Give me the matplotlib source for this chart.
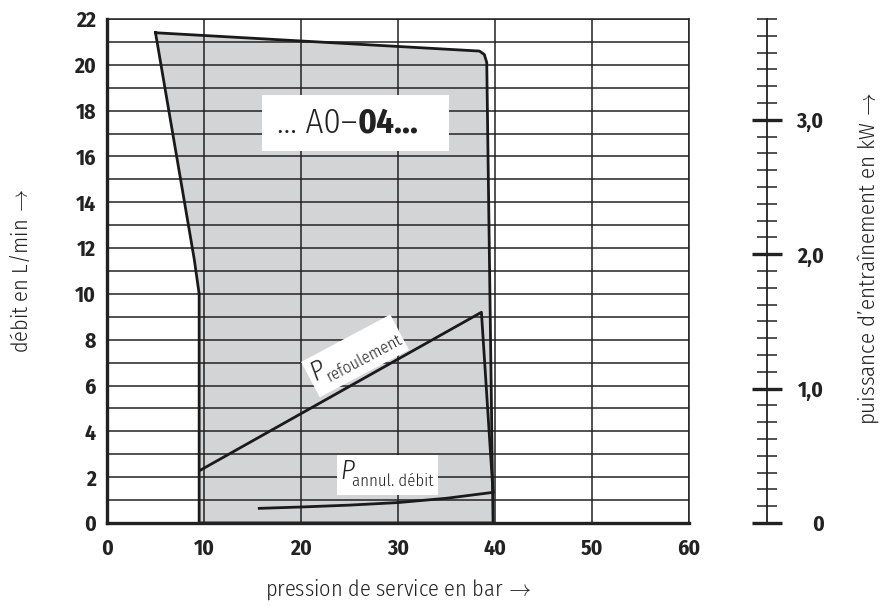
import numpy as np
import matplotlib.pyplot as plt
from matplotlib.patches import Polygon, Rectangle
from matplotlib.transforms import Affine2D, ScaledTranslation

plt.rcParams['font.family'] = ['Fira Sans Condensed', 'Roboto Condensed', 'DejaVu Sans']
plt.rcParams['mathtext.fontset'] = 'cm'

# Plage de fonctionnement : pression (bar) / débit (L/min)
envelope_bar = [5.0, 38.4, 38.9, 39.15, 39.8, 9.5, 9.5, 9.0]
envelope_lmin = [21.4, 20.6, 20.45, 20.1, 0.0, 0.0, 10.0, 11.5]

# Puissance d'entraînement (kW)
refoul_bar = [9.6, 38.6, 39.8]
refoul_kw = [0.392, 1.568, 0.228]
annul_bar = [15.7, 20.0, 25.0, 30.0, 35.0, 39.8]
annul_kw = [0.109, 0.119, 0.133, 0.152, 0.184, 0.228]

x_ticks = [0, 10, 20, 30, 40, 50, 60]
y_ticks = list(range(0, 23, 2))
kw_ticks = [0, 1, 2, 3]
kw_labels = ['0', '1,0', '2,0', '3,0']
kw_max = 3.75

INK = '#222222'
ARROW = r'$\,\rightarrow$'


def power_label(axis, x, y, angle, sub):
    # boîte blanche + "P" italique + indice, dimensions en pixels
    tr = Affine2D().rotate_deg(angle) + ScaledTranslation(x, y, axis.transData)
    axis.add_patch(Rectangle((-50.5, -20), 101, 40, transform=tr,
                             facecolor='white', edgecolor='none', zorder=4))
    axis.text(-47, 4, 'P', transform=tr, rotation=angle, rotation_mode='anchor',
              ha='left', va='center', fontsize=19.5, fontstyle='italic',
              fontweight=300, color=INK, zorder=5)
    axis.text(-35, -6, sub, transform=tr, rotation=angle, rotation_mode='anchor',
              ha='left', va='center', fontsize=12, fontweight=300,
              color=INK, zorder=5)


fig = plt.figure(figsize=(8.82, 6.08), dpi=100)
ax = fig.add_axes([107/882, 85/608, 582/882, 504/608])
ax.set_xlim(0, 60)
ax.set_ylim(0, 22)

ax.set_xticks(x_ticks)
ax.set_yticks(y_ticks)
ax.set_yticks(range(1, 22, 2), minor=True)
ax.tick_params(which='both', length=0)
ax.tick_params(axis='y', pad=8, labelsize=15.5)
ax.tick_params(axis='x', pad=11, labelsize=15.5)
for lbl in ax.get_xticklabels() + ax.get_yticklabels():
    lbl.set_fontweight('bold')
    lbl.set_color(INK)

ax.set_axisbelow('line')
ax.grid(which='both', color=INK, lw=1.1)
for side in ['left', 'bottom']:
    ax.spines[side].set_linewidth(2.4)
for side in ['top', 'right']:
    ax.spines[side].set_linewidth(1.1)
for sp in ax.spines.values():
    sp.set_color(INK)
    sp.set_zorder(4)

env = Polygon(np.column_stack([envelope_bar, envelope_lmin]), closed=True,
              facecolor='#d3d4d6', edgecolor='none', zorder=1)
ax.add_patch(env)
ax.plot(envelope_bar + envelope_bar[:1], envelope_lmin + envelope_lmin[:1],
        color='#1a1a1a', lw=2.0, solid_joinstyle='round', zorder=2)

# Cartouche du modèle
ax.add_patch(Rectangle((16.0, 16.25), 19.3, 2.45, facecolor='white',
                       edgecolor='none', zorder=3))
ax.text(25.8, 17.45, '... A0–', ha='right', va='center', fontsize=25,
        fontweight=300, color=INK, zorder=5)
ax.text(25.8, 17.45, '04...', ha='left', va='center', fontsize=25,
        fontweight='bold', color=INK, zorder=5)

ax.set_xlabel('pression de service en bar' + ARROW, fontsize=16,
              fontweight=300, color=INK)
ax.xaxis.set_label_coords(0.5, -0.107)
ax.set_ylabel('débit en L/min' + ARROW, fontsize=16, fontweight=300,
              color=INK)
ax.yaxis.set_label_coords(-0.129, 0.5)

# Courbes de puissance sur l'échelle kW
axp = ax.twinx()
axp.set_ylim(0, kw_max)
axp.axis('off')
axp.plot(refoul_bar, refoul_kw, color='#1a1a1a', lw=2.0, zorder=3)
axp.plot(annul_bar, annul_kw, color='#1a1a1a', lw=2.0, zorder=3)
power_label(axp, 25.57, 1.243, 28, 'refoulement')
power_label(axp, 28.9, 0.357, 0, 'annul. débit')

# Échelle séparée de la puissance
axk = fig.add_axes([767/882, 85/608, 0.0001, 504/608])
axk.set_ylim(0, kw_max)
axk.set_xticks([])
for side in ['top', 'bottom', 'right']:
    axk.spines[side].set_visible(False)
axk.spines['left'].set_linewidth(1.3)
axk.spines['left'].set_color(INK)
axk.patch.set_visible(False)
axk.set_yticks(kw_ticks, kw_labels)
axk.set_yticks([t for t in np.arange(0, kw_max + 0.01, 0.125)
                if t not in kw_ticks], minor=True)
axk.tick_params(which='major', direction='inout', length=21.5, width=2.4,
                color=INK, left=True, labelleft=False, labelright=True,
                labelsize=15.5, pad=30)
axk.tick_params(which='minor', direction='inout', length=14.5, width=1.1,
                color=INK)
for lbl in axk.get_yticklabels():
    lbl.set_fontweight('bold')
    lbl.set_ha('right')
    lbl.set_color(INK)

fig.text(868/882, 1 - 258/608, 'puissance d’entraînement en kW' + ARROW,
         rotation=90, ha='center', va='center', fontsize=16.5, fontweight=300,
         color=INK)

fig.savefig('out.png', dpi=100)
